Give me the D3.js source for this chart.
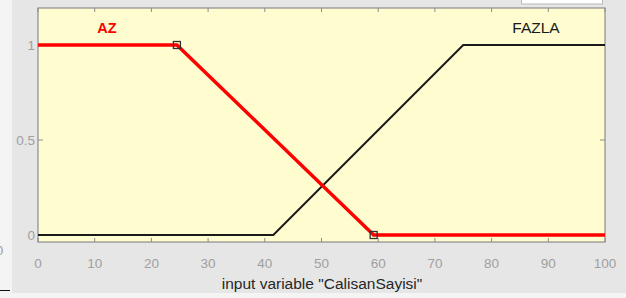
<!DOCTYPE html>
<html>
<head>
<meta charset="utf-8">
<script src="https://cdn.jsdelivr.net/npm/d3@7"></script>
<style>
  body { margin: 0; background: #fff; }
  svg { display: block; font-family: "Liberation Sans", Arial, sans-serif; }
</style>
</head>
<body>
<svg id="chart" width="626" height="298"></svg>
<script>
// membership functions of input variable "CalisanSayisi"
const xTicks = [0, 10, 20, 30, 40, 50, 60, 70, 80, 90, 100];
const yTicks = [0, 0.5, 1];
const azX = [0, 24.5, 59.2, 100];
const azY = [1, 1, 0, 0];
const fazlaX = [0, 41.5, 75, 100];
const fazlaY = [0, 0, 1, 1];
const azMarkers = [[24.5, 1], [59.2, 0]];

const svg = d3.select("#chart");

// figure backgrounds
svg.append("rect").attr("x", 0).attr("y", 0).attr("width", 626).attr("height", 298).attr("fill", "#f4f4f4");
svg.append("rect").attr("x", 12).attr("y", 0).attr("width", 614).attr("height", 293).attr("fill", "#e6e6e6");

// leftover bits of neighbouring window
svg.append("text").attr("x", -4).attr("y", 255).attr("fill", "#9a9a9a").attr("font-size", 13).text("0");
svg.append("line").attr("x1", 0).attr("x2", 10).attr("y1", 290.5).attr("y2", 290.5).attr("stroke", "#111").attr("stroke-width", 1);
svg.append("rect").attr("x", 521.5).attr("y", -3).attr("width", 81).attr("height", 7)
    .attr("fill", "#fff").attr("stroke", "#b8b8b8");

const plotL = 38, plotR = 605, plotT = 8, plotB = 242;

const x = d3.scaleLinear().domain([0, 100]).range([plotL, plotR]);
const y = d3.scaleLinear().domain([-0.0368, 1.1947]).range([plotB, plotT]);

svg.append("rect")
    .attr("x", plotL).attr("y", plotT)
    .attr("width", plotR - plotL).attr("height", plotB - plotT)
    .attr("fill", "#fffdcf");

// inward ticks on all four sides
const axisColor = "#8c8c8c";
const tickLen = 4;
xTicks.forEach(function(t) {
    svg.append("line").attr("x1", x(t)).attr("x2", x(t)).attr("y1", plotB).attr("y2", plotB - tickLen).attr("stroke", axisColor);
    svg.append("line").attr("x1", x(t)).attr("x2", x(t)).attr("y1", plotT).attr("y2", plotT + tickLen).attr("stroke", axisColor);
});
yTicks.forEach(function(t) {
    svg.append("line").attr("x1", plotL).attr("x2", plotL + tickLen + 1).attr("y1", y(t)).attr("y2", y(t)).attr("stroke", axisColor);
    svg.append("line").attr("x1", plotR).attr("x2", plotR - tickLen - 1).attr("y1", y(t)).attr("y2", y(t)).attr("stroke", axisColor);
});

svg.append("rect")
    .attr("x", plotL).attr("y", plotT)
    .attr("width", plotR - plotL).attr("height", plotB - plotT)
    .attr("fill", "none").attr("stroke", axisColor).attr("stroke-width", 1.2);

// tick labels
svg.selectAll(".xlab")
    .data(xTicks)
    .enter()
    .append("text")
    .attr("x", function(d) { return x(d); })
    .attr("y", 268)
    .attr("text-anchor", "middle")
    .attr("font-size", 13.5)
    .attr("fill", "#a0a0a0")
    .text(function(d) { return d; });

svg.selectAll(".ylab")
    .data(yTicks)
    .enter()
    .append("text")
    .attr("x", 35)
    .attr("y", function(d) { return y(d) + 5; })
    .attr("text-anchor", "end")
    .attr("font-size", 13.5)
    .attr("fill", "#a0a0a0")
    .text(function(d) { return d; });

svg.append("text")
    .attr("x", 322)
    .attr("y", 289)
    .attr("text-anchor", "middle")
    .attr("font-size", 15.5)
    .attr("fill", "#262626")
    .text('input variable "CalisanSayisi"');

// membership curves
const line = d3.line()
    .x(function(d) { return x(d[0]); })
    .y(function(d) { return y(d[1]); });

svg.append("path")
    .datum(d3.zip(fazlaX, fazlaY))
    .attr("d", line)
    .attr("fill", "none")
    .attr("stroke", "#1a1a1a")
    .attr("stroke-width", 2);

svg.append("path")
    .datum(d3.zip(azX, azY))
    .attr("d", line)
    .attr("fill", "none")
    .attr("stroke", "#ff0000")
    .attr("stroke-width", 3.5);

svg.selectAll(".marker")
    .data(azMarkers)
    .enter()
    .append("rect")
    .attr("x", function(d) { return x(d[0]) - 3.5; })
    .attr("y", function(d) { return y(d[1]) - 3.5; })
    .attr("width", 7)
    .attr("height", 7)
    .attr("fill", "none")
    .attr("stroke", "#333")
    .attr("stroke-width", 1.3);

// mf names
svg.append("text")
    .attr("x", 107).attr("y", 33)
    .attr("text-anchor", "middle")
    .attr("font-size", 14.5)
    .attr("font-weight", "bold")
    .attr("fill", "#ff0000")
    .text("AZ");

svg.append("text")
    .attr("x", 536).attr("y", 33)
    .attr("text-anchor", "middle")
    .attr("font-size", 15.5)
    .attr("fill", "#1a1a1a")
    .text("FAZLA");
</script>
</body>
</html>
